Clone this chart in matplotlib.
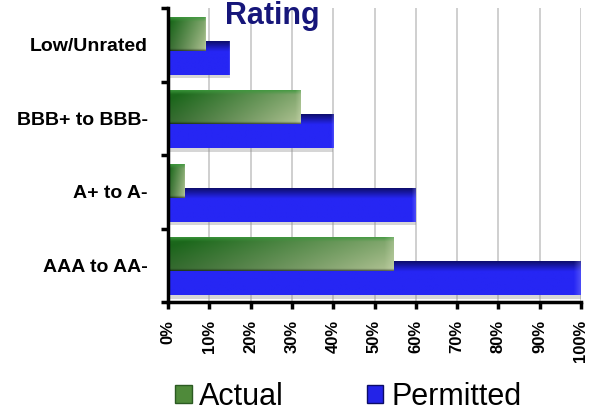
import numpy as np
import matplotlib.pyplot as plt
from matplotlib.patches import Patch
from matplotlib.colors import to_rgb

# data
categories = ["AAA to AA-", "A+ to A-", "BBB+ to BBB-", "Low/Unrated"]
actual = [54.5, 4, 32, 9]
permitted = [100, 60, 40, 15]
xticks = list(range(0, 101, 10))
xtick_labels = [f"{t}%" for t in xticks]


def gradient_bar(ax, x0, width, yc, height, kind, z):
    """Draw one bar as a shaded image so it looks like the bevelled original."""
    if width <= 0:
        return
    nx, ny = 200, 40
    fx = np.linspace(0, 1, nx)[None, :, None]
    fy = np.linspace(0, 1, ny)[:, None, None]  # 0 = top row
    if kind == "green":
        dark = np.array(to_rgb("#1c6a1c"))
        light = np.array(to_rgb("#b2c495"))
        mix = np.clip(0.75 * fx + 0.35 * fy - 0.1, 0, 1)
        img = dark + (light - dark) * mix
        img = img * (1 - 0.18 * fy * (1 - fx))   # darker bottom-left
        top = np.array(to_rgb("#3e9a3e"))
        t = np.clip(1 - fy / 0.12, 0, 1) * 0.8
        img = img * (1 - t) + top * t
        rim = np.clip((fx - 0.96) / 0.04, 0, 1) * 0.3
        img = img * (1 - rim) + np.array([0.85, 0.9, 0.75]) * rim
        bot = np.clip((fy - 0.94) / 0.06, 0, 1) * 0.5
        img = img * (1 - bot)
    else:
        body = np.array(to_rgb("#2626f4"))
        navy = np.array(to_rgb("#0e0e6e"))
        t = np.clip(1 - fy / 0.3, 0, 1)
        img = body * (1 - t) + navy * t
        img = img * np.ones((1, nx, 1))
        rim = np.clip((fx - 0.985) / 0.015, 0, 1) * 0.35
        img = img * (1 - rim) + np.array([0.55, 0.55, 1.0]) * rim
        # soft grey shadow just below the blue bar
        ax.barh(yc - 0.05, width, height=height, left=x0, color="#8c8c8c",
                alpha=0.35, zorder=z - 0.5, linewidth=0)
    img = np.clip(img, 0, 1)
    ax.imshow(img, extent=(x0, x0 + width, yc - height / 2, yc + height / 2),
              aspect="auto", zorder=z, interpolation="bilinear")


fig = plt.figure(figsize=(5.98, 4.12), dpi=100)
ax = fig.add_axes([168 / 598, 1 - 302 / 412, 413 / 598, 294 / 412])

ypos = np.arange(len(categories))
bar_h = 0.45
for i, y in enumerate(ypos):
    gradient_bar(ax, 0, permitted[i], y - 0.18, bar_h, "blue", 3)
    gradient_bar(ax, 0, actual[i], y + 0.14, bar_h, "green", 5)

ax.set_xlim(0, 100)
ax.set_ylim(-0.5, len(categories) - 0.5)

ax.set_xticks(xticks)
ax.set_xticklabels(xtick_labels, rotation=90, fontsize=12, fontweight="bold",
                   family="Liberation Sans")
ax.set_yticks(ypos)
ax.set_yticklabels(categories, fontsize=14, fontweight="bold",
                   family="Liberation Sans")
ax.set_yticks(np.arange(-0.5, len(categories)), minor=True)
ax.tick_params(axis="y", which="major", length=0, pad=14.5)
ax.tick_params(axis="y", which="minor", length=5, width=2.5, direction="out")
ax.tick_params(axis="x", length=5, width=2.5, direction="out", pad=8)

ax.grid(axis="x", color="#cccccc", linewidth=1.3, zorder=0)
ax.set_axisbelow(True)
for s in ["top", "right"]:
    ax.spines[s].set_visible(False)
for s in ["left", "bottom"]:
    ax.spines[s].set_linewidth(2.5)
    ax.spines[s].set_zorder(10)

fig.text(272 / 598, 1 - 24 / 412, "Rating", ha="center", va="baseline",
         fontsize=22, fontweight="bold", color="#16167a",
         family="Liberation Sans")

handles = [Patch(facecolor="#4f8a3a", edgecolor="#2b5a22", label="Actual"),
           Patch(facecolor="#2323e8", edgecolor="#0c0c66", label="Permitted")]
leg = fig.legend(handles=handles, loc="center", ncol=2, frameon=False,
                 bbox_to_anchor=(348 / 598, 1 - 397 / 412),
                 prop={"family": "Liberation Sans", "size": 22},
                 handlelength=0.55, handleheight=0.55, handletextpad=0.25,
                 columnspacing=2.7)

fig.savefig("out.png", dpi=100)
